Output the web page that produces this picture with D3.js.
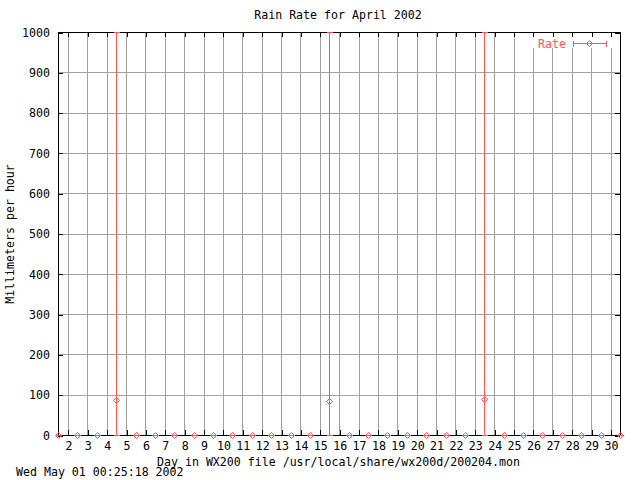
<!DOCTYPE html>
<html><head><meta charset="utf-8">
<script src="https://cdn.jsdelivr.net/npm/d3@7"></script>
<style>
body{margin:0;background:#fff}
svg{display:block}
text{font-family:"DejaVu Sans Mono",monospace;font-size:11.6px;fill:#000}
</style>
</head><body>
<svg id="c" width="640" height="480"></svg>
<script>
// ---- data ----
const sampleDay = [1.49,2.49,3.49,4.49,5.49,6.49,7.49,8.49,9.49,10.49,11.49,12.49,13.49,14.49,15.49,
                   16.49,17.49,18.49,19.49,20.49,21.49,22.49,23.49,24.49,25.49,26.49,27.49,28.49,29.49,30.49];
const rate     = [0,0,0,86,0,0,0,0,0,0,0,0,0,0,84,0,0,0,0,0,0,0,89,0,0,0,0,0,0,0];
const rateLow  = [0,0,0,0,0,0,0,0,0,0,0,0,0,0,0,0,0,0,0,0,0,0,0,0,0,0,0,0,0,0];
const rateHigh = [0,0,0,1000,0,0,0,0,0,0,0,0,0,0,1000,0,0,0,0,0,0,0,1000,0,0,0,0,0,0,0];
const xTicks = [2,3,4,5,6,7,8,9,10,11,12,13,14,15,16,17,18,19,20,21,22,23,24,25,26,27,28,29,30];
const yTicks = [0,100,200,300,400,500,600,700,800,900,1000];
const titleText = "Rain Rate for April 2002";
const xLabel = "Day in WX200 file /usr/local/share/wx200d/200204.mon";
const yLabel = "Millimeters per hour";
const stamp = "Wed May 01 00:25:18 2002";
const seriesName = "Rate";

// ---- layout ----
const L = 58, R = 620, T = 32, B = 435;
const red = "#ff5555", grid = "#a0a0a0";
const svg = d3.select("#c").attr("shape-rendering","crispEdges");

const x = d3.scaleLinear().domain(d3.extent(sampleDay)).range([L, R]);
const y = d3.scaleLinear().domain([0, 1000]).range([B, T]);
const px = v => Math.round(x(v)) + 0.5;
const py = v => Math.round(y(v)) + 0.5;

// grid
svg.append("g").selectAll("line").data(xTicks).join("line")
  .attr("x1", d => px(d)).attr("x2", d => px(d)).attr("y1", T).attr("y2", B)
  .attr("stroke", grid);
svg.append("g").selectAll("line").data(yTicks.slice(1, -1)).join("line")
  .attr("y1", d => py(d)).attr("y2", d => py(d)).attr("x1", L).attr("x2", R)
  .attr("stroke", grid);

// key blank area
svg.append("rect").attr("x", 527).attr("y", T + 1).attr("width", R - 527 - 1).attr("height", 15).attr("fill", "#fff");

// axes (ticks inward)
const axB = d3.axisBottom(x).tickValues(xTicks).tickFormat(d3.format("d")).tickSizeInner(-5).tickSizeOuter(0);
const gB = svg.append("g").attr("transform", `translate(0.5,${B})`).call(axB);
gB.selectAll("text").attr("y", 15).attr("dy", null);
const axT = d3.axisTop(x).tickValues(xTicks).tickFormat("").tickSizeInner(-5).tickSizeOuter(0);
svg.append("g").attr("transform", `translate(0.5,${T})`).call(axT);
const axLft = d3.axisLeft(y).tickValues(yTicks).tickFormat(d3.format("d")).tickSizeInner(-5).tickSizeOuter(0).tickPadding(8);
svg.append("g").attr("transform", `translate(${L},0.5)`).call(axLft);
const axRt = d3.axisRight(y).tickValues(yTicks).tickFormat("").tickSizeInner(-5).tickSizeOuter(0);
svg.append("g").attr("transform", `translate(${R},0.5)`).call(axRt);
svg.selectAll(".domain").remove();
svg.selectAll(".tick line").attr("stroke", "#000");
svg.selectAll(".tick text").attr("fill", "#000").attr("font-family", null).attr("font-size", null);

// border
svg.append("rect").attr("x", L + 0.5).attr("y", T + 0.5).attr("width", R - L).attr("height", B - T)
  .attr("fill", "none").attr("stroke", "#000");

// error bars
const data = sampleDay.map((d, i) => ({x: d, v: rate[i], lo: rateLow[i], hi: rateHigh[i]}));
const eb = svg.append("g").attr("stroke", red).attr("fill", "none");
data.forEach(d => {
  const cx = px(d.x);
  eb.append("line").attr("x1", cx).attr("x2", cx).attr("y1", py(d.lo)).attr("y2", py(d.hi));
  [d.lo, d.hi].forEach(v => eb.append("line").attr("x1", cx - 3).attr("x2", cx + 3).attr("y1", py(v)).attr("y2", py(v)));
});
// points (diamonds)
svg.append("g").selectAll("path").data(data).join("path")
  .attr("d", d => { const cx = px(d.x), cy = py(d.v); return `M${cx},${cy-3}L${cx+3},${cy}L${cx},${cy+3}L${cx-3},${cy}Z`; })
  .attr("fill", "none").attr("stroke", red).attr("shape-rendering", "auto");

// key
const ky = 43.5;
svg.append("text").attr("x", 566).attr("y", ky + 4).attr("text-anchor", "end").style("fill", red).text(seriesName);
const kg = svg.append("g").attr("stroke", red).attr("fill", "none");
kg.append("line").attr("x1", 573.5).attr("x2", 606.5).attr("y1", ky).attr("y2", ky);
kg.append("line").attr("x1", 573.5).attr("x2", 573.5).attr("y1", ky - 3).attr("y2", ky + 3);
kg.append("line").attr("x1", 606.5).attr("x2", 606.5).attr("y1", ky - 3).attr("y2", ky + 3);
kg.append("path").attr("d", `M589.5,${ky-3}L592.5,${ky}L589.5,${ky+3}L586.5,${ky}Z`).attr("shape-rendering", "auto");

// texts
svg.append("text").attr("x", 338).attr("y", 19).attr("text-anchor", "middle").text(titleText);
svg.append("text").attr("x", 338.5).attr("y", 466).attr("text-anchor", "middle").text(xLabel);
svg.append("text").attr("transform", "translate(14,234) rotate(-90)").attr("text-anchor", "middle").text(yLabel);
svg.append("text").attr("x", 16).attr("y", 476).text(stamp);
</script>
</body></html>
